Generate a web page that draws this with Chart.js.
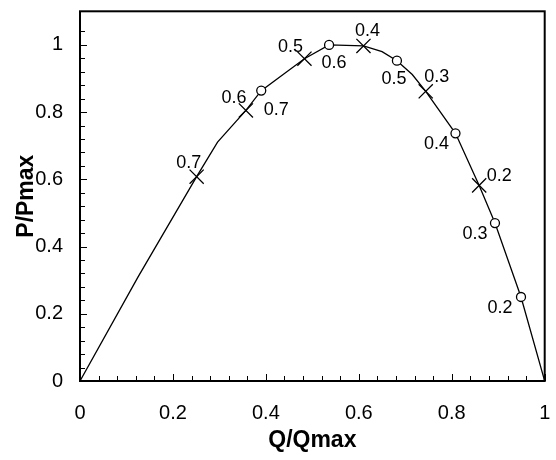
<!DOCTYPE html>
<html>
<head>
<meta charset="utf-8">
<script src="https://cdn.jsdelivr.net/npm/chart.js@4/dist/chart.umd.min.js"></script>
<style>
  html, body { margin: 0; padding: 0; background: #fff; }
  #wrap { width: 556px; height: 460px; }
</style>
</head>
<body>
<div id="wrap"><canvas id="chart"></canvas></div>
<script>
// curve Q/Qmax vs P/Pmax
const curveQ = [0, 0.125, 0.251, 0.296, 0.357, 0.390, 0.440, 0.483, 0.536, 0.610, 0.650, 0.682, 0.715, 0.744, 0.808, 0.859, 0.893, 0.949, 1];
const curveP = [0, 0.310, 0.608, 0.711, 0.805, 0.864, 0.915, 0.959, 1.000, 0.997, 0.980, 0.953, 0.912, 0.862, 0.737, 0.582, 0.470, 0.250, 0];

// x markers
const crossQ = [0.251, 0.357, 0.483, 0.610, 0.744, 0.859];
const crossP = [0.608, 0.805, 0.959, 0.997, 0.862, 0.582];
const crossLabels = ['0.7', '0.6', '0.5', '0.4', '0.3', '0.2'];

// circle markers
const circleQ = [0.390, 0.536, 0.682, 0.808, 0.893, 0.949];
const circleP = [0.864, 1.000, 0.953, 0.737, 0.470, 0.250];
const circleLabels = ['0.7', '0.6', '0.5', '0.4', '0.3', '0.2'];

const xTickLabels = ['0', '0.2', '0.4', '0.6', '0.8', '1'];
const yTickLabels = ['0', '0.2', '0.4', '0.6', '0.8', '1'];

// where the labels sit relative to their marker (px)
const crossOffsets = [[-8, -14], [-12, -12], [-14, -12], [4, -15], [11, -14], [20, -9]];
const circleOffsets = [[15, 19], [5, 18], [-3, 18], [-19, 11], [-20, 11], [-21, 11]];

const pts = (xs, ys) => xs.map((x, i) => ({ x: x, y: ys[i] }));

const FONT = "'Liberation Sans', Arial, sans-serif";

function tickLabel(list) {
  return function (v) {
    const k = v / 0.2;
    if (Math.abs(k - Math.round(k)) < 1e-6) return list[Math.round(k)] || '';
    return '';
  };
}

function noPad(s) {
  s.paddingLeft = 0;
  s.paddingRight = 0;
  s.paddingTop = 0;
  s.paddingBottom = 0;
}

// frame + inward ticks
const framePlugin = {
  id: 'frame',
  afterDraw(chart) {
    const ctx = chart.ctx;
    const a = chart.chartArea;
    ctx.save();
    ctx.strokeStyle = '#000';
    ctx.lineWidth = 1;
    ['x', 'y'].forEach(id => {
      const s = chart.scales[id];
      s.ticks.forEach(t => {
        const major = t.label !== '';
        const len = major ? 7 : 5;
        const p = Math.round(s.getPixelForValue(t.value)) + 0.5;
        ctx.beginPath();
        if (id === 'x') {
          ctx.moveTo(p, a.bottom);
          ctx.lineTo(p, a.bottom - len);
        } else {
          ctx.moveTo(a.left, p);
          ctx.lineTo(a.left + len, p);
        }
        ctx.stroke();
      });
    });
    ctx.lineWidth = 2;
    ctx.strokeRect(a.left, a.top, a.right - a.left, a.bottom - a.top);
    ctx.restore();
  }
};

const labelPlugin = {
  id: 'pointLabels',
  afterDatasetsDraw(chart) {
    const ctx = chart.ctx;
    const xs = chart.scales.x, ys = chart.scales.y;
    ctx.save();
    ctx.fillStyle = '#000';
    ctx.font = '18px ' + FONT;
    ctx.textAlign = 'center';
    ctx.textBaseline = 'middle';
    const put = (qs, ps, labels, offs) => {
      labels.forEach((lab, i) => {
        const px = xs.getPixelForValue(qs[i]) + offs[i][0];
        const py = ys.getPixelForValue(ps[i]) + offs[i][1];
        ctx.fillText(lab, px, py);
      });
    };
    put(crossQ, crossP, crossLabels, crossOffsets);
    put(circleQ, circleP, circleLabels, circleOffsets);
    ctx.restore();
  }
};

new Chart(document.getElementById('chart'), {
  type: 'scatter',
  data: {
    datasets: [
      {
        label: 'cross',
        data: pts(crossQ, crossP),
        showLine: false,
        pointStyle: 'crossRot',
        pointRadius: 10,
        borderColor: '#000',
        borderWidth: 1.3
      },
      {
        label: 'circle',
        data: pts(circleQ, circleP),
        showLine: false,
        pointStyle: 'circle',
        pointRadius: 4.5,
        borderColor: '#000',
        backgroundColor: '#fff',
        borderWidth: 1.3
      },
      {
        label: 'curve',
        data: pts(curveQ, curveP),
        showLine: true,
        pointRadius: 0,
        borderColor: '#000',
        borderWidth: 1.3,
        tension: 0
      }
    ]
  },
  options: {
    responsive: true,
    maintainAspectRatio: false,
    animation: false,
    events: [],
    layout: { padding: { left: 0, right: 8, top: 7, bottom: 0 } },
    plugins: {
      legend: { display: false },
      tooltip: { enabled: false }
    },
    scales: {
      x: {
        type: 'linear',
        min: 0,
        max: 1,
        grid: { display: false, drawTicks: false },
        border: { display: false },
        ticks: {
          stepSize: 0.04,
          autoSkip: false,
          maxRotation: 0,
          padding: 20,
          color: '#000',
          font: { family: FONT, size: 20 },
          callback: tickLabel(xTickLabels)
        },
        title: {
          display: true,
          text: 'Q/Qmax',
          color: '#000',
          font: { family: FONT, size: 23, weight: 'bold' },
          padding: { top: 0, bottom: 6 }
        },
        afterFit(s) { s.height = 79; noPad(s); }
      },
      y: {
        type: 'linear',
        min: 0,
        max: 1.1,
        grid: { display: false, drawTicks: false },
        border: { display: false },
        ticks: {
          stepSize: 0.04,
          autoSkip: false,
          padding: 17,
          color: '#000',
          font: { family: FONT, size: 20 },
          callback: tickLabel(yTickLabels)
        },
        title: {
          display: true,
          text: 'P/Pmax',
          color: '#000',
          font: { family: FONT, size: 23, weight: 'bold' },
          padding: { top: 13, bottom: 0 }
        },
        afterFit(s) { s.width = 80; noPad(s); }
      }
    }
  },
  plugins: [framePlugin, labelPlugin]
});
</script>
</body>
</html>
